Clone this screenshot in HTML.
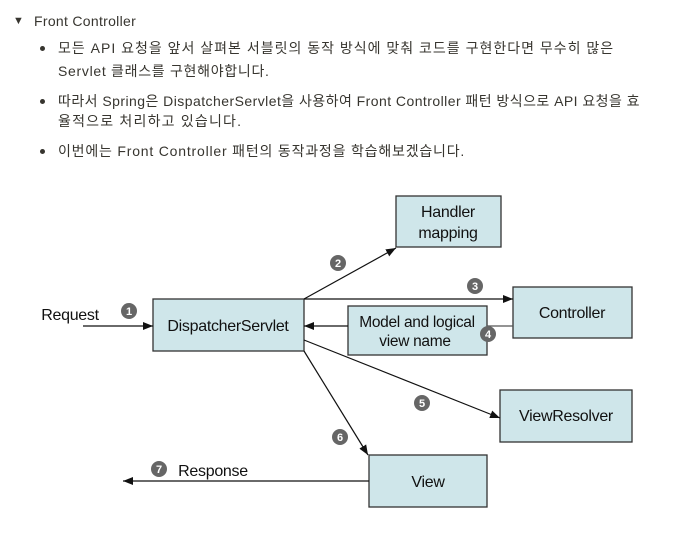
<!DOCTYPE html>
<html><head><meta charset="utf-8"><style>
body{margin:0;width:679px;height:541px;background:#fff;position:relative;font-family:"Liberation Sans","Noto Sans CJK KR",sans-serif;color:#37352f;overflow:hidden}
.t{position:absolute;font-size:14px;white-space:nowrap;line-height:16px}
.b{position:absolute;width:5px;height:5px;border-radius:50%;background:#37352f}
</style></head><body>
<div class="t" style="left:13px;top:13px;font-size:11px">▼</div>
<div class="t" style="left:34px;top:13px;letter-spacing:0.3px">Front Controller</div>
<div class="b" style="left:40px;top:46px"></div>
<div class="t" style="left:58px;top:40px;letter-spacing:1px">모든 API 요청을 앞서 살펴본 서블릿의 동작 방식에 맞춰 코드를 구현한다면 무수히 많은</div>
<div class="t" style="left:58px;top:63px;letter-spacing:0.7px">Servlet 클래스를 구현해야합니다.</div>
<div class="b" style="left:40px;top:99px"></div>
<div class="t" style="left:58px;top:93px;letter-spacing:0.45px">따라서 Spring은 DispatcherServlet을 사용하여 Front Controller 패턴 방식으로 API 요청을 효</div>
<div class="t" style="left:58px;top:113px;letter-spacing:1.2px">율적으로 처리하고 있습니다.</div>
<div class="b" style="left:40px;top:149px"></div>
<div class="t" style="left:58px;top:143px;letter-spacing:0.8px">이번에는 Front Controller 패턴의 동작과정을 학습해보겠습니다.</div>
<svg width="679" height="541" style="position:absolute;left:0;top:0" font-family="Liberation Sans, sans-serif">
<defs><marker id="a" markerWidth="10" markerHeight="8" refX="10" refY="4" orient="auto" markerUnits="userSpaceOnUse"><path d="M0,0L10,4L0,8z" fill="#111"/></marker></defs>
<g fill="#cfe6ea" stroke="#333" stroke-width="1.3">
<rect x="396" y="196" width="105" height="51"/>
<rect x="513" y="287" width="119" height="51"/>
<rect x="153" y="299" width="151" height="52"/>
<rect x="348" y="306" width="139" height="49"/>
<rect x="500" y="390" width="132" height="52"/>
<rect x="369" y="455" width="118" height="52"/>
</g>
<g stroke="#111" stroke-width="1.2" fill="none" marker-end="url(#a)">
<line x1="83" y1="326" x2="153" y2="326"/>
<line x1="304" y1="299" x2="396" y2="248"/>
<line x1="304" y1="299" x2="513" y2="299"/>
<line x1="348" y1="326" x2="304" y2="326"/>
<line x1="304" y1="340" x2="500" y2="418"/>
<line x1="304" y1="351" x2="368" y2="455"/>
<line x1="369" y1="481" x2="123" y2="481"/>
</g>
<line x1="513" y1="326" x2="487" y2="326" stroke="#555" stroke-width="1.2"/>
<g font-size="16" fill="#111" text-anchor="middle" letter-spacing="-0.3">
<text x="448" y="217">Handler</text><text x="448" y="238">mapping</text>
<text x="572" y="318">Controller</text>
<text x="228" y="331">DispatcherServlet</text>
<text x="417" y="327" font-size="15.5">Model and logical</text><text x="415" y="346" font-size="15.5">view name</text>
<text x="566" y="421">ViewResolver</text>
<text x="428" y="487">View</text>
<text x="70" y="320">Request</text>
<text x="213" y="476">Response</text>
</g>
<g fill="#666"><circle cx="129" cy="311" r="8"/><circle cx="338" cy="263" r="8"/><circle cx="475" cy="286" r="8"/><circle cx="488" cy="334" r="8"/><circle cx="422" cy="403" r="8"/><circle cx="340" cy="437" r="8"/><circle cx="159" cy="469" r="8"/></g>
<g fill="#fff" font-size="11" font-weight="bold" text-anchor="middle"><text x="129" y="315">1</text><text x="338" y="267">2</text><text x="475" y="290">3</text><text x="488" y="338">4</text><text x="422" y="407">5</text><text x="340" y="441">6</text><text x="159" y="473">7</text></g>
</svg>
</body></html>
